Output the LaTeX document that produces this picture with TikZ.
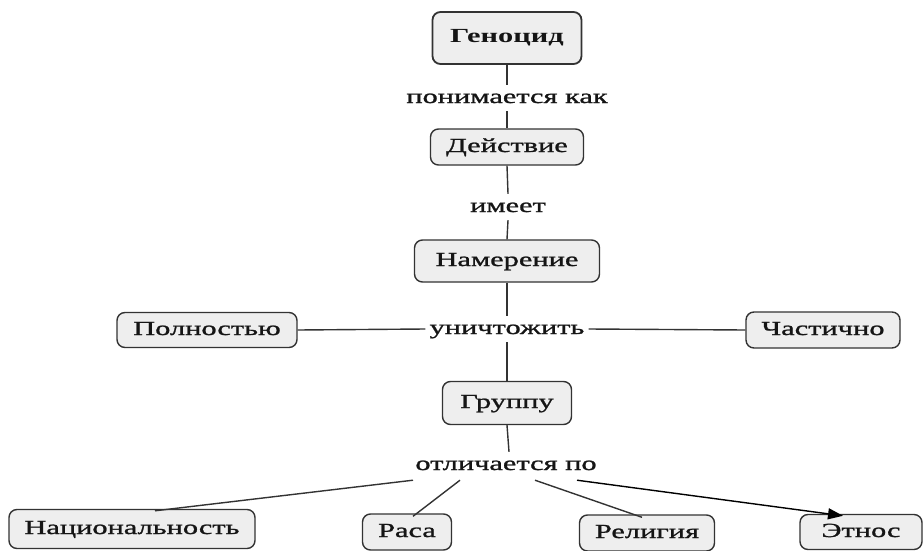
\documentclass[tikz,border=0pt]{standalone}
\usepackage{fontspec}
\setmainfont{Liberation Serif}[FakeStretch=1.52, UprightFeatures={FakeBold=1.2}]
\usetikzlibrary{arrows.meta}
\definecolor{boxfill}{HTML}{EEEEEE}
\definecolor{boxline}{HTML}{333333}
\definecolor{txt}{HTML}{151515}
\begin{document}
\begin{tikzpicture}[x=1pt,y=-1pt,
  concept/.style={draw=boxline, fill=boxfill, line width=1.4pt, rounded corners=8pt,
    inner sep=0pt, text=txt, font=\fontsize{20}{24}\selectfont,
    text height=14pt, text depth=4pt, align=center},
  linklbl/.style={inner sep=4pt, text=txt, font=\fontsize{20}{24}\selectfont,
    text height=14pt, text depth=4pt},
  conn/.style={draw=boxline, line width=1.4pt}]
\useasboundingbox (0,0) rectangle (923,551);

% concepts
\node[concept, font=\fontsize{20}{24}\selectfont\bfseries, line width=1.8pt,
      minimum width=149pt, minimum height=52pt] (gen) at (507,38) {Геноцид};
\node[concept, minimum width=153pt, minimum height=36pt] (act) at (507,147) {Действие};
\node[concept, minimum width=185pt, minimum height=42pt] (intent) at (507,261) {Намерение};
\node[concept, minimum width=180pt, minimum height=35pt] (full) at (207,330) {Полностью};
\node[concept, minimum width=154pt, minimum height=36pt] (part) at (823,330) {Частично};
\node[concept, minimum width=129pt, minimum height=43pt] (group) at (507,403) {Группу};
\node[concept, minimum width=246pt, minimum height=39pt] (nat) at (132,529) {Национальность};
\node[concept, minimum width=89pt, minimum height=36pt] (race) at (407,532) {Раса};
\node[concept, minimum width=135pt, minimum height=36pt] (rel) at (647,533) {Религия};
\node[concept, minimum width=122pt, minimum height=35pt] (eth) at (861,532) {Этнос};

% linking phrases
\node[linklbl] (l1) at (507,98) {понимается как};
\node[linklbl] (l2) at (508,207) {имеет};
\node[linklbl] (l3) at (507,329) {уничтожить};
\node[linklbl] (l4) at (506,465) {отличается по};

% connectors
\draw[conn] (gen.south) -- (l1.north);
\draw[conn] (l1.south) -- (act.north);
\draw[conn] (act.south) -- (l2.north);
\draw[conn] (l2.south) -- (intent.north);
\draw[conn] (intent.south) -- (l3.north);
\draw[conn] (l3.south) -- (group.north);
\draw[conn] (l3.west) -- (full.east);
\draw[conn] (l3.east) -- (part.west);
\draw[conn] (group.south) -- ([xshift=3pt]l4.north);
\draw[conn] ([xshift=-93pt,yshift=-2pt]l4.south) -- ([xshift=23pt,yshift=-2pt]nat.north);
\draw[conn] ([xshift=-46pt,yshift=-2pt]l4.south) -- ([xshift=6pt,yshift=-3pt]race.north);
\draw[conn] ([xshift=29pt,yshift=-2pt]l4.south) -- ([xshift=-5pt,yshift=-3pt]rel.north);
\draw[conn, -{Triangle[length=15pt,width=11pt]}, draw=black, fill=black] ([xshift=71pt,yshift=-2pt]l4.south) -- ([xshift=-18pt,yshift=-2pt]eth.north);
\end{tikzpicture}
\end{document}
